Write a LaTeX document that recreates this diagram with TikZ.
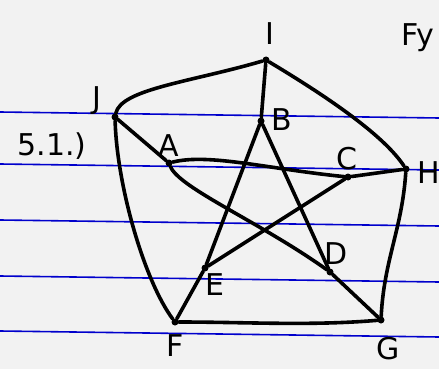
\documentclass[tikz,border=0pt]{standalone}
\usepackage{fontspec}
\setsansfont{DejaVu Sans}
\begin{document}
\begin{tikzpicture}[x=1pt,y=-1pt,
  vtx/.style={circle,fill=black,inner sep=0pt,minimum size=7pt},
  lbl/.style={font=\sffamily\fontsize{30}{30}\selectfont,inner sep=1pt},
  edge/.style={line width=3.6pt,line cap=round}]
\fill[black!5] (0,0) rectangle (439,369);
\clip (0,0) rectangle (439,369);
% ruled lines of the paper
\foreach \y in {112,164,220,276,331}{
  \draw[blue!80!black,line width=1.6pt] (0,\y)--(439,\y+6);
}
\node[lbl] (title) at (52,146) {5.1.)};
\node[lbl] (corner) at (418,38) {Fy};
% vertices
\node[vtx] (I) at (266,60) {};
\node[vtx] (J) at (115,117) {};
\node[vtx] (A) at (169,163) {};
\node[vtx] (B) at (261,121) {};
\node[vtx] (C) at (348,177) {};
\node[vtx] (H) at (406,169) {};
\node[vtx] (D) at (330,272) {};
\node[vtx] (E) at (205,268) {};
\node[vtx] (F) at (175,322) {};
\node[vtx] (G) at (381,320) {};
% labels
\node[lbl] (lI) at (270,34) {I};
\node[lbl] (lJ) at (97,101) {J};
\node[lbl] (lA) at (169,146) {A};
\node[lbl] (lB) at (282,120) {B};
\node[lbl] (lC) at (347,159) {C};
\node[lbl] (lH) at (429,173) {H};
\node[lbl] (lD) at (336,254) {D};
\node[lbl] (lE) at (215,285) {E};
\node[lbl] (lF) at (175,346) {F};
\node[lbl] (lG) at (388,349) {G};
% outer pentagon
\draw[edge] (J) .. controls +(6,-28) and +(-75,22) .. (I);
\draw[edge] (I) .. controls +(75,45) and +(-20,-30) .. (H);
\draw[edge] (H) .. controls +(-4,60) and +(3,-60) .. (G);
\draw[edge] (G) .. controls +(-70,6) and +(70,0) .. (F);
\draw[edge] (F) .. controls +(-30,-40) and +(2,70) .. (J);
% spokes
\draw[edge] (I) -- (B);
\draw[edge] (H) -- (C);
\draw[edge] (G) -- (D);
\draw[edge] (F) -- (E);
\draw[edge] (J) -- (A);
% inner star
\draw[edge] (A) .. controls +(40,-10) and +(-80,-8) .. (C);
\draw[edge] (C) -- (E);
\draw[edge] (E) -- (B);
\draw[edge] (B) -- (D);
\draw[edge] (A) .. controls +(10,25) and +(-70,-50) .. (D);
\end{tikzpicture}
\end{document}
